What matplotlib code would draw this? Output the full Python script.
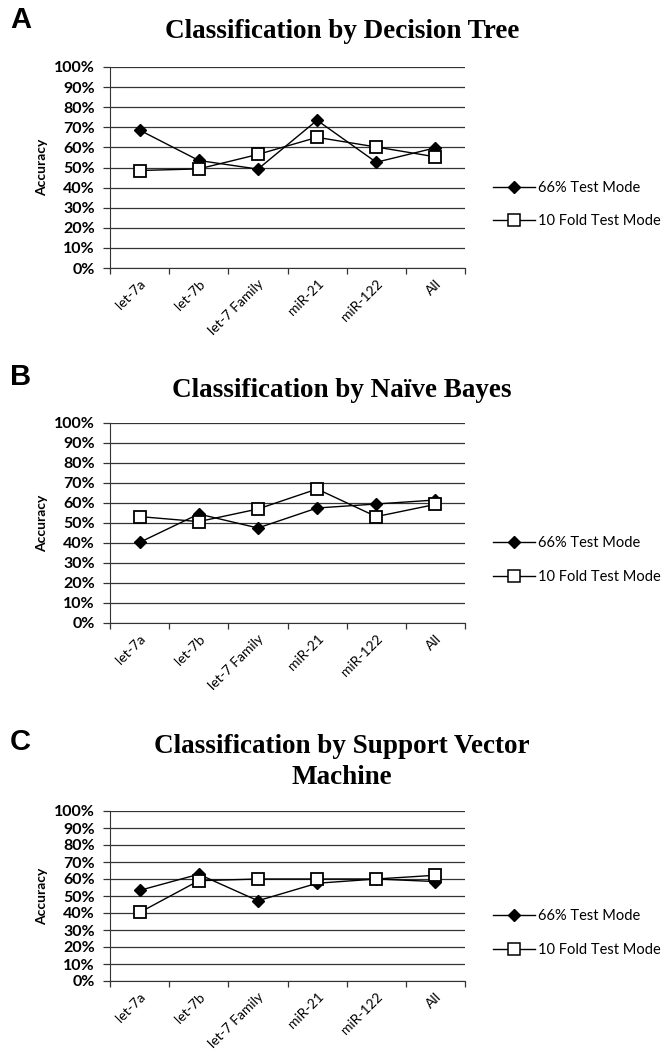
import matplotlib
matplotlib.use('Agg')
import matplotlib.pyplot as plt
from matplotlib.lines import Line2D
from matplotlib.ticker import FixedLocator, PercentFormatter

# data (accuracy in %)
categories = ['let-7a', 'let-7b', 'let-7 Family', 'miR-21', 'miR-122', 'All']

dt_66 = [68.6, 53.5, 49.2, 73.5, 52.6, 59.8]
dt_10 = [48.5, 49.3, 56.5, 65.0, 60.2, 55.3]

nb_66 = [40.3, 54.5, 47.5, 57.5, 59.5, 61.5]
nb_10 = [53.2, 50.7, 57.0, 67.0, 53.2, 59.3]

svm_66 = [53.3, 62.8, 47.2, 57.5, 60.0, 58.5]
svm_10 = [40.3, 59.0, 60.0, 60.0, 60.0, 62.2]

titles = ['Classification by Decision Tree',
          'Classification by Naïve Bayes',
          'Classification by Support Vector\nMachine']
letters = ['A', 'B', 'C']
series = [(dt_66, dt_10), (nb_66, nb_10), (svm_66, svm_10)]

W, H = 669, 1059
fig = plt.figure(figsize=(W / 100, H / 100), dpi=100)

# pixel boxes: left, top, right, bottom of each plot area
boxes = [(110, 67, 465, 268), (110, 423, 465, 623), (110, 811, 465, 981)]
title_y = [32, 390, 762]
letter_y = [20, 377, 742]

for i in range(3):
    l, t, r, b = boxes[i]
    ax = fig.add_axes([l / W, 1 - b / H, (r - l) / W, (b - t) / H])
    s66, s10 = series[i]
    x = list(range(len(categories)))
    ax.plot(x, s66, color='black', lw=1.0, marker='D', markersize=6,
            markerfacecolor='black', markeredgecolor='black', zorder=3)
    ax.plot(x, s10, color='black', lw=1.0, marker='s', markersize=9,
            markerfacecolor='white', markeredgecolor='black', markeredgewidth=1.3, zorder=4)

    ax.set_xlim(-0.5, len(categories) - 0.5)
    ax.set_ylim(0, 100)
    ax.yaxis.set_major_locator(FixedLocator(range(0, 101, 10)))
    ax.yaxis.set_major_formatter(PercentFormatter(decimals=0))
    ax.grid(axis='y', color='#333333', lw=0.9)
    ax.set_axisbelow(True)

    ax.set_xticks(x)
    ax.set_xticklabels(categories, rotation=45, ha='right', rotation_mode='anchor',
                       family='Lato', size=10)
    ax.tick_params(axis='x', which='major', length=0, pad=7)
    ax.set_xticks([k - 0.5 for k in range(len(categories) + 1)], minor=True)
    ax.tick_params(axis='x', which='minor', length=4, width=0.9, color='#333333')
    ax.tick_params(axis='y', length=5, width=0.9, color='#333333', pad=6)
    for lab in ax.get_yticklabels():
        lab.set_family('Lato')
        lab.set_fontweight('bold')
        lab.set_fontsize(11.5)

    for side in ['top', 'right']:
        ax.spines[side].set_visible(False)
    ax.spines['left'].set_color('#333333')
    ax.spines['bottom'].set_color('#333333')

    ax.set_ylabel('Accuracy', family='Lato', fontsize=10, fontweight='bold', labelpad=4)

    fig.text(342 / W, 1 - title_y[i] / H, titles[i], ha='center', va='center',
             family='Liberation Serif', weight='bold', size=19.5, linespacing=1.3)
    fig.text(10 / W, 1 - letter_y[i] / H, letters[i], ha='left', va='center',
             family='Liberation Sans', weight='bold', size=21)

    handles = [Line2D([], [], color='black', lw=1.0, marker='D', markersize=6,
                      markerfacecolor='black'),
               Line2D([], [], color='black', lw=1.0, marker='s', markersize=9,
                      markerfacecolor='white', markeredgewidth=1.1)]
    fig.legend(handles, ['66% Test Mode', '10 Fold Test Mode'],
               loc='center left', bbox_to_anchor=(493 / W, 1 - ((t + b) / 2 + 37) / H),
               frameon=False, prop={'family': 'Lato', 'size': 10.5}, handlelength=2.9,
               handletextpad=0.2, labelspacing=1.35, borderaxespad=0, borderpad=0)

fig.savefig('out.png', dpi=100)
